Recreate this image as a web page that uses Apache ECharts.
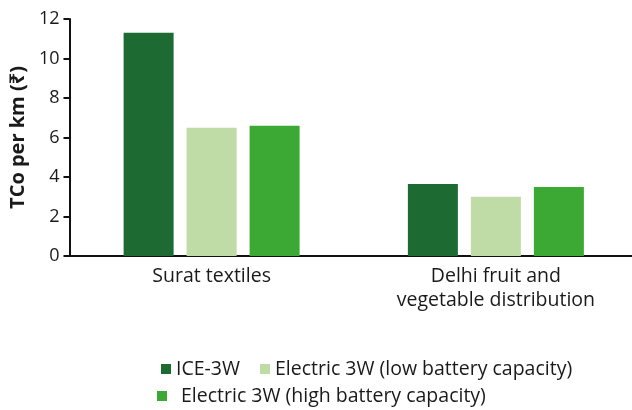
<!DOCTYPE html>
<html>
<head>
<meta charset="utf-8">
<script src="https://cdn.jsdelivr.net/npm/echarts@6/dist/echarts.min.js"></script>
<style>
  html, body { margin: 0; padding: 0; background: #fff; overflow: hidden; }
  #chart { width: 640px; height: 410px; }
</style>
</head>
<body>
<div id="chart"></div>
<script>
// Cost of ownership per km, by city use-case and vehicle type
const categories = ['Surat textiles', 'Delhi fruit and\nvegetable distribution'];
const seriesNames = ['ICE-3W', 'Electric 3W (low battery capacity)', 'Electric 3W (high battery capacity)'];
const iceValues = [11.3, 3.65];
const lowBatteryValues = [6.5, 3.0];
const highBatteryValues = [6.6, 3.5];
const yTicks = [0, 2, 4, 6, 8, 10, 12];

const colors = ['#1d6b33', '#bfdba6', '#3da935'];
const FONT = '"Open Sans", "Noto Sans", sans-serif';
const TEXT = '#1a1a1a';

const chart = echarts.init(document.getElementById('chart'), null, { renderer: 'canvas' });

const legendBase = {
  icon: 'rect',
  itemWidth: 10,
  itemHeight: 10,
  itemGap: 20,
  padding: 0,
  textStyle: { fontFamily: FONT, fontSize: 19.5, color: TEXT }
};

chart.setOption({
  animation: false,
  color: colors,
  grid: { left: 68, width: 570, top: 19, bottom: 154, containLabel: false },
  xAxis: {
    type: 'category',
    data: categories,
    axisLine: { lineStyle: { color: '#111', width: 2 } },
    axisTick: { show: false },
    axisLabel: {
      fontFamily: FONT, fontSize: 19.5, color: TEXT, margin: 8, lineHeight: 24
    }
  },
  yAxis: {
    type: 'value',
    min: yTicks[0],
    max: yTicks[yTicks.length - 1],
    interval: 2,
    name: 'TCo per km (₹)',
    nameLocation: 'middle',
    nameGap: 39,
    nameTextStyle: { fontFamily: FONT, fontSize: 20, fontWeight: 'bold', color: TEXT },
    axisLine: { show: true, lineStyle: { color: '#111', width: 2 } },
    axisTick: { show: true, length: 6, lineStyle: { color: '#111', width: 2 } },
    axisLabel: { fontFamily: FONT, fontSize: 18, color: TEXT, margin: 10 },
    splitLine: { show: false }
  },
  legend: [
    Object.assign({}, legendBase, { left: 161, top: 359, data: [seriesNames[0], seriesNames[1]] }),
    Object.assign({}, legendBase, {
      left: 157, top: 386, data: [seriesNames[2]],
      textStyle: Object.assign({}, legendBase.textStyle, { padding: [0, 0, 0, 9] })
    })
  ],
  series: [
    { name: seriesNames[0], type: 'bar', data: iceValues, barWidth: 50, barGap: '26%' },
    { name: seriesNames[1], type: 'bar', data: lowBatteryValues, barWidth: 50, barGap: '26%' },
    { name: seriesNames[2], type: 'bar', data: highBatteryValues, barWidth: 50, barGap: '26%' }
  ]
});
</script>
</body>
</html>
